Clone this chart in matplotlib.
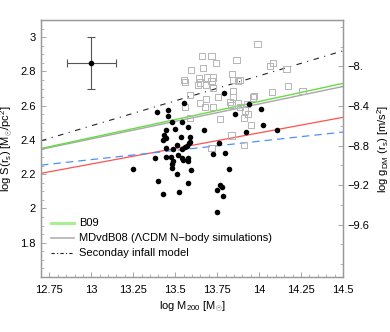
import matplotlib
matplotlib.use("Agg")
import matplotlib.pyplot as plt
from matplotlib.lines import Line2D
from matplotlib.ticker import MultipleLocator, FixedLocator
import numpy as np

plt.rcParams['font.family'] = ['Liberation Sans', 'DejaVu Sans']
plt.rcParams['mathtext.fontset'] = 'custom'
plt.rcParams['mathtext.rm'] = 'Liberation Sans'
plt.rcParams['mathtext.it'] = 'Liberation Sans:italic'

# ---- data ----
group_x = [13.393, 13.455, 13.455, 13.552, 13.479, 13.538, 13.443, 13.498, 13.576, 13.433,
           13.443, 13.429, 13.588, 13.532, 13.509, 13.584, 13.573, 13.561, 13.485, 13.445,
           13.543, 13.379, 13.445, 13.478, 13.488, 13.482, 13.518, 13.538, 13.548, 13.579,
           13.578, 13.250, 13.479, 13.594, 13.400, 13.429, 13.512, 13.522, 13.574, 13.822,
           13.751, 13.767, 13.777, 13.786, 13.751, 13.790, 13.941, 13.856, 14.009, 14.021,
           13.671, 13.922, 14.108, 13.764, 13.723, 13.796, 13.588]
group_y = [2.565, 2.575, 2.537, 2.614, 2.506, 2.506, 2.458, 2.461, 2.475, 2.429,
           2.409, 2.402, 2.417, 2.415, 2.370, 2.380, 2.367, 2.356, 2.347, 2.351,
           2.347, 2.293, 2.298, 2.300, 2.277, 2.259, 2.312, 2.293, 2.283, 2.297,
           2.277, 2.233, 2.234, 2.224, 2.162, 2.082, 2.201, 2.098, 2.151, 2.230,
           2.108, 2.135, 2.123, 2.074, 1.981, 2.672, 2.610, 2.554, 2.579, 2.485,
           2.458, 2.448, 2.458, 2.380, 2.318, 2.324, 2.390]

cluster_x = [13.658, 13.717, 13.745, 13.866, 13.991, 13.594, 13.664, 14.084, 14.065, 14.164,
             13.554, 13.558, 13.643, 13.647, 13.691, 13.727, 13.717, 13.838, 13.846, 13.876,
             13.886, 13.634, 13.683, 13.727, 13.846, 14.174, 14.075, 14.259, 13.757, 13.846,
             13.971, 13.965, 13.588, 13.683, 13.826, 13.876, 13.836, 13.647, 13.677, 13.727,
             13.558, 13.886, 13.926, 13.916, 13.935, 13.910, 13.767, 13.588, 13.951, 13.836,
             13.910, 13.717]
cluster_y = [2.892, 2.892, 2.847, 2.866, 2.960, 2.808, 2.818, 2.851, 2.833, 2.814,
             2.750, 2.738, 2.760, 2.735, 2.765, 2.765, 2.746, 2.783, 2.750, 2.744,
             2.750, 2.721, 2.721, 2.701, 2.686, 2.716, 2.681, 2.687, 2.652, 2.652,
             2.658, 2.648, 2.662, 2.639, 2.623, 2.614, 2.604, 2.614, 2.590, 2.590,
             2.590, 2.590, 2.610, 2.572, 2.551, 2.528, 2.520, 2.526, 2.487, 2.426,
             2.370, 2.351]

line_x = [12.7, 14.5]
b09_y = [2.350, 2.730]
mdvdb_y = [2.345, 2.712]
infall_y = [2.395, 2.920]
red_y = [2.205, 2.532]
blue_y = [2.253, 2.446]

err_x, err_y = 13.0, 2.85
err_dx, err_dy = 0.145, 0.15

x_ticks = [12.75, 13, 13.25, 13.5, 13.75, 14, 14.25, 14.5]
x_ticklabels = ['12.75', '13', '13.25', '13.5', '13.75', '14', '14.25', '14.5']
y_ticks = [1.8, 2.0, 2.2, 2.4, 2.6, 2.8, 3.0]
y_ticklabels = ['1.8', '2', '2.2', '2.4', '2.6', '2.8', '3']
r_ticks = [-8.0, -8.4, -8.8, -9.2, -9.6]
r_ticklabels = ['\u22128.', '\u22128.4', '\u22128.8', '\u22129.2', '\u22129.6']

# ---- figure ----
fig = plt.figure(figsize=(3.9, 3.32), dpi=100)
ax = fig.add_axes([0.105, 0.1657, 0.7744, 0.774])
frame_c = '#999999'

ax.plot(line_x, red_y, color='#ff5050', lw=0.9, zorder=2)
ax.plot(line_x, blue_y, color='#4d90ff', lw=0.9, dashes=(6, 4), zorder=2)
ax.plot(line_x, mdvdb_y, color='#a8a8a8', lw=1.0, zorder=2)
ax.plot(line_x, b09_y, color='#66dd44', lw=1.0, zorder=2)
ax.plot(line_x, infall_y, color='#222222', lw=0.8, dashes=(5, 5, 1, 5), zorder=2)

ax.scatter(cluster_x, cluster_y, marker='s', s=20, facecolors='none',
           edgecolors='#b5b5b5', linewidths=0.7, zorder=3)
ax.scatter(group_x, group_y, marker='o', s=16, color='black', linewidths=0, zorder=4)

ax.errorbar([err_x], [err_y], xerr=[err_dx], yerr=[err_dy], fmt='o', ms=3,
            color='black', ecolor='#555555', elinewidth=0.8, capsize=3, capthick=0.8, zorder=5)

ax.set_xlim(12.7, 14.5)
ax.set_ylim(1.6, 3.1)
ax.set_xticks(x_ticks)
ax.set_xticklabels(x_ticklabels)
ax.set_yticks(y_ticks)
ax.set_yticklabels(y_ticklabels)
ax.xaxis.set_minor_locator(MultipleLocator(0.05))
ax.yaxis.set_minor_locator(MultipleLocator(0.05))
ax.tick_params(axis='both', which='both', direction='in', colors=frame_c,
               labelcolor='black', labelsize=8, top=False, right=False)
ax.tick_params(which='major', length=3.5, width=0.6)
ax.tick_params(which='minor', length=2, width=0.5)
ax.tick_params(axis='x', pad=6)
for sp in ax.spines.values():
    sp.set_color(frame_c)
    sp.set_linewidth(0.9)

ax.set_xlabel(r'log M$_{200}$ [M$_{\odot}$]', fontsize=8, labelpad=3)
ax.set_ylabel(r'log S(r$_{\mathrm{s}}$) [M$_{\odot}$/pc$^2$]', fontsize=8, labelpad=4)

# right axis
a_r, b_r = -8.0 - 1.732 * 2.829, 1.732
ax2 = ax.twinx()
ax2.set_ylim(a_r + b_r * 1.6, a_r + b_r * 3.1)
ax2.set_yticks(r_ticks)
ax2.set_yticklabels(r_ticklabels)
ax2.yaxis.set_minor_locator(MultipleLocator(0.2))
ax2.tick_params(axis='y', which='both', direction='in', colors=frame_c,
                labelcolor='black', labelsize=8)
ax2.tick_params(which='major', length=3.5, width=0.6)
ax2.tick_params(which='minor', length=2, width=0.5)
for sp in ax2.spines.values():
    sp.set_color(frame_c)
    sp.set_linewidth(0.9)
ax2.set_ylabel(r'log g$_{\mathrm{DM}}$ (r$_{\mathrm{s}}$) [m/s$^2$]', fontsize=8,
               rotation=90, labelpad=4)

handles = [Line2D([], [], color='#a8f090', lw=2.2),
           Line2D([], [], color='#b0b0b0', lw=1.2),
           Line2D([], [], color='#222222', lw=0.8, dashes=(3, 2, 1, 2))]
labels = ['B09', 'MDvdB08 (\u039bCDM N\u2212body simulations)', 'Seconday infall model']
ax.legend(handles, labels, loc='lower left', bbox_to_anchor=(0.02, 0.055),
          frameon=False, fontsize=8, handlelength=2.0, handletextpad=0.5,
          labelspacing=0.45, borderaxespad=0)

fig.savefig('out.png', dpi=100)
